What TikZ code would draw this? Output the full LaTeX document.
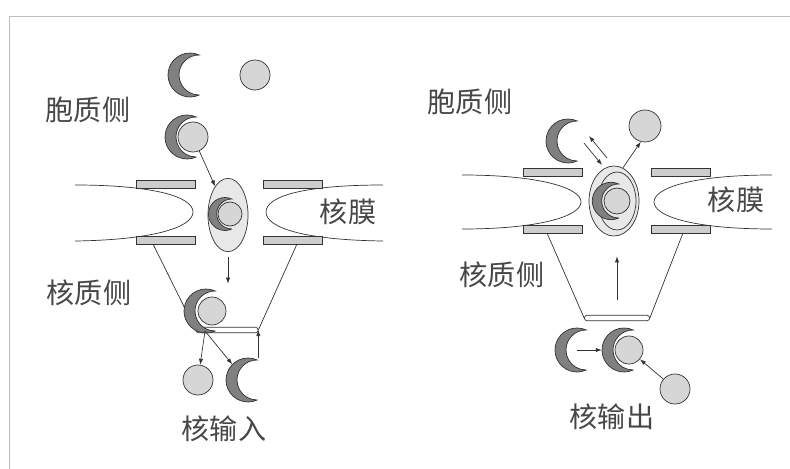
\documentclass[tikz,border=0pt]{standalone}
\usepackage{fontspec}
\newfontfamily\cjk{Noto Sans CJK SC}
\usetikzlibrary{arrows.meta,positioning,calc,shapes.geometric}
\definecolor{cargofill}{HTML}{D6D6D6}
\definecolor{recfill}{HTML}{808080}
\definecolor{porefill}{HTML}{E8E8E8}
\definecolor{barfill}{HTML}{CDCDCD}
\definecolor{inkgray}{HTML}{333333}
\definecolor{framegray}{HTML}{BEBEBE}

\begin{document}
\begin{tikzpicture}[x=0.3mm, y=-0.3mm,
  cargo/.style={circle, draw=inkgray, fill=cargofill, line width=0.6pt, inner sep=0pt, minimum size=9mm},
  bar/.style={rectangle, draw=inkgray, fill=barfill, line width=0.6pt, inner sep=0pt, minimum width=17.8mm, minimum height=2.4mm},
  pore/.style={ellipse, draw=inkgray, fill=porefill, line width=0.6pt, inner sep=0pt, minimum width=12mm, minimum height=22mm},
  ring/.style={rectangle, rounded corners=0.7mm, draw=inkgray, fill=white, line width=0.6pt, inner sep=0pt, minimum height=1.6mm},
  memb/.style={draw=inkgray, line width=0.6pt},
  arr/.style={-{Latex[length=1.8mm,width=1.3mm]}, draw=inkgray, line width=0.6pt},
  lbl/.style={font=\cjk\fontsize{24}{26}\selectfont, text=black!72, inner sep=0pt},
  receptor/.pic={
    \fill[recfill, draw=inkgray, line width=0.6pt]
      (65.4:22) arc[start angle=65.4, end angle=294.6, radius=22]
      arc[start angle=270.5, end angle=89.5, radius=20] -- cycle;
    \node[circle, inner sep=0pt, minimum size=13.2mm] (-n) at (0,0) {};
  }
]
  \useasboundingbox (0,0) rectangle (790,469);
  \draw[framegray, line width=0.8pt] (9,469) -- (9,16) -- (790,16);

  %% nuclear import
  % envelope folds around the pore
  \draw[memb] (75,185) .. controls (150,185) and (193,196) .. (193,212)
    .. controls (193,228) and (150,240) .. (75,241);
  \draw[memb] (383,185) .. controls (305,185) and (266,196) .. (266,212)
    .. controls (266,228) and (305,240) .. (383,241);
  \node[bar] (barAul) at (166,184) {};
  \node[bar] (barAur) at (293,184) {};
  \node[bar] (barAll) at (166,240) {};
  \node[bar] (barAlr) at (293,240) {};

  % basket
  \node[ring, minimum width=18.6mm] (ringA) at (227,330) {};
  \draw[memb] (153,244) -- (ringA.west);
  \draw[memb] (297,244) -- (ringA.east);

  \node[pore] (poreA) at (228,215) {};
  \pic[scale=0.75] (pcA) at (225,214) {receptor};
  \node[cargo, minimum size=7.2mm] (inA) at (230,214) {};

  % cytoplasm
  \pic (recA) at (190,75) {receptor};
  \node[cargo] (cargoA) at (255,75) {};
  \pic (cxA) at (187,137) {receptor};
  \node[cargo] (cplxA) at (193,137) {};

  % nucleoplasm
  \pic (cxB) at (206,311) {receptor};
  \node[cargo, minimum size=8.4mm] (cplxB) at (212,311) {};
  \coordinate (split) at (205,331);
  \node[cargo] (cargoB) at (198,380) {};
  \pic (recB) at (248,380) {receptor};

  \draw[arr] (cplxA) -- (poreA);
  \draw[arr, shorten <=1.5mm, shorten >=3.9mm] (poreA.south) -- (poreA.south |- cplxB.north);
  \draw[arr] (split) -- (cargoB);
  \draw[arr] (split) -- (recB-n.north west);
  \draw[arr] (recB-n.north -| ringA.east) -- (ringA.east);

  \node[lbl] (cytoA) at (88,110) {胞质侧};
  \node[lbl] (nucA) at (89,293) {核质侧};
  \node[lbl] (envA) at (348,212) {核膜};
  \node[lbl] (impA) at (224,429) {核输入};

  %% nuclear export
  \draw[memb] (462,175) .. controls (540,175) and (581,188) .. (581,202)
    .. controls (581,216) and (540,229) .. (462,229);
  \draw[memb] (772,175) .. controls (692,175) and (654,188) .. (654,202)
    .. controls (654,216) and (692,229) .. (772,229);
  \node[bar] (barBul) at (553,172) {};
  \node[bar] (barBur) at (681,172) {};
  \node[bar] (barBll) at (553,229) {};
  \node[bar] (barBlr) at (681,229) {};

  \node[ring, minimum width=19.5mm] (ringB) at (617,318) {};
  \draw[memb] (547,233) -- (ringB.west);
  \draw[memb] (683,233) -- (ringB.east);

  \node[pore, minimum width=15mm, minimum height=21mm] (poreB) at (614,201) {};
  \draw[memb] (617,201) ellipse[x radius=19, y radius=29];
  \pic[scale=0.85] (pcB) at (611,201) {receptor};
  \node[cargo, minimum size=7.8mm] (inB) at (617,201) {};

  % cytoplasm
  \pic (recC) at (568,141) {receptor};
  \node[cargo, minimum size=9.6mm] (cargoC) at (645,126) {};
  \coordinate (eqA) at (607,158);
  \coordinate (eqB) at (589,136);
  \coordinate (eqC) at (584,143);
  \coordinate (eqD) at (602,165);

  % nucleoplasm
  \pic (recD) at (577,350) {receptor};
  \pic (cxD) at (624,350) {receptor};
  \node[cargo, minimum size=8.4mm] (cplxD) at (629,350) {};
  \node[cargo] (cargoE) at (675,389) {};

  \draw[arr] (eqA) -- (eqB);
  \draw[arr] (eqC) -- (eqD);
  \draw[arr] (poreB.75) -- (cargoC.255);
  \draw[arr, shorten <=5.4mm, shorten >=6mm] (ringB.center) -- (ringB.center |- poreB.south);
  \draw[arr] (recD-n.center) -- (cxD-n.west);
  \draw[arr] (cargoE) -- (cplxD);

  \node[lbl] (cytoB) at (470,102) {胞质侧};
  \node[lbl] (nucB) at (502,275) {核质侧};
  \node[lbl] (envB) at (736,200) {核膜};
  \node[lbl] (expB) at (612,417) {核输出};
\end{tikzpicture}
\end{document}
